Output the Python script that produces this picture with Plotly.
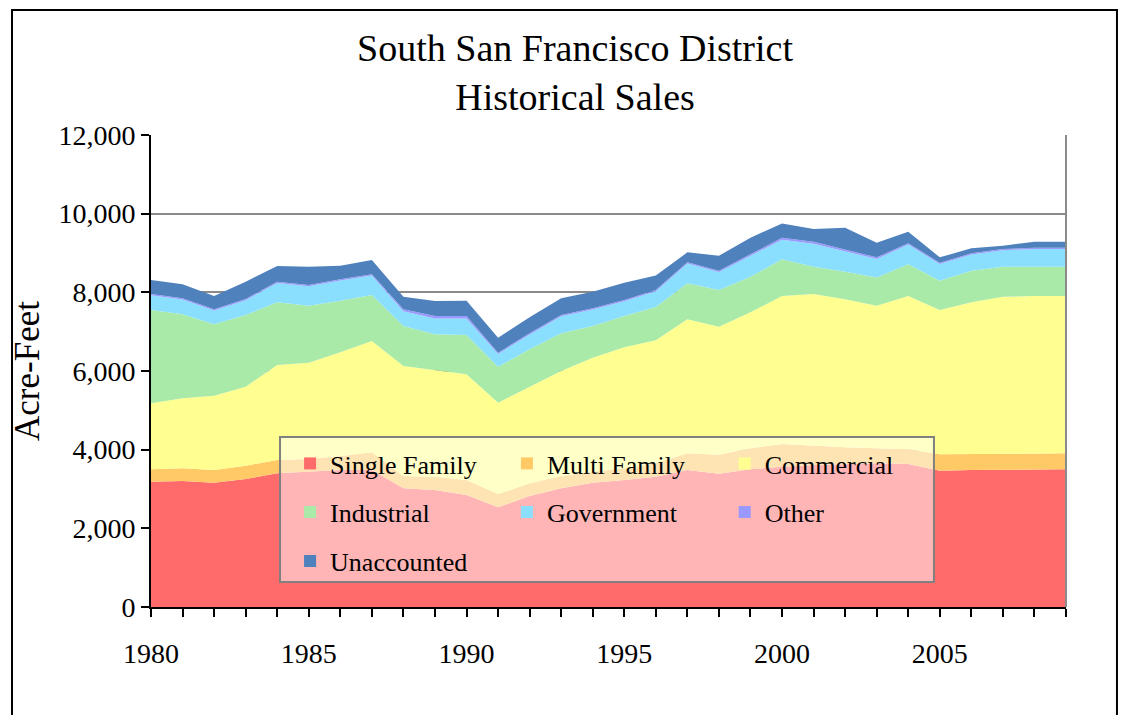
import plotly.graph_objects as go

years = list(range(1980, 2010))

single_family = [3186, 3203, 3160, 3254, 3398, 3440, 3483, 3483, 3017, 2974,
                 2847, 2534, 2822, 3017, 3160, 3228, 3313, 3483, 3390, 3500,
                 3567, 3610, 3635, 3652, 3635, 3465, 3483, 3483, 3500, 3500]
multi_family = [314, 322, 323, 339, 339, 322, 355, 449, 313, 339,
                381, 338, 322, 313, 280, 297, 339, 424, 480, 534,
                576, 483, 424, 382, 374, 416, 407, 415, 407, 407]
commercial = [1678, 1780, 1889, 2008, 2415, 2449, 2636, 2830, 2796, 2711,
              2687, 2321, 2457, 2669, 2897, 3076, 3128, 3406, 3256, 3457,
              3763, 3864, 3762, 3626, 3897, 3669, 3855, 3990, 3999, 3999]
industrial = [2372, 2135, 1814, 1822, 1593, 1449, 1313, 1169, 1017, 908,
              999, 916, 949, 958, 806, 796, 850, 915, 932, 906,
              932, 694, 703, 720, 805, 745, 805, 763, 745, 745]
government = [377, 377, 351, 377, 495, 495, 513, 496, 374, 405,
              423, 326, 377, 436, 420, 377, 398, 504, 462, 538,
              501, 586, 518, 469, 504, 428, 411, 419, 453, 453]
other = [30, 30, 30, 30, 30, 30, 30, 30, 50, 60,
         60, 30, 30, 30, 30, 30, 30, 30, 30, 30,
         50, 50, 50, 40, 30, 30, 30, 30, 30, 30]
unaccounted = [355, 356, 339, 440, 398, 466, 346, 364, 321, 382,
               390, 381, 407, 424, 423, 440, 369, 254, 381, 424,
               364, 322, 551, 372, 296, 136, 127, 85, 153, 153]

series_names = ["Single Family", "Multi Family", "Commercial", "Industrial",
                "Government", "Other", "Unaccounted"]
series_values = [single_family, multi_family, commercial, industrial,
                 government, other, unaccounted]
series_colors = ["#FF6B6B", "#FFC966", "#FFFF91", "#A9EAA9",
                 "#8ADFFF", "#9999FF", "#4F81BD"]

FONT = "Liberation Serif"

fig = go.Figure()
for name, vals, color in zip(series_names, series_values, series_colors):
    fig.add_trace(go.Scatter(
        x=years, y=vals, name=name, stackgroup="one", mode="lines",
        line=dict(width=0, color=color), fillcolor=color, showlegend=False,
    ))

# legend entries laid out as a 3-column grid
legend_x = [0.152, 0.389, 0.627]
legend_y = [0.304, 0.201, 0.097]
legend_layouts = {}
for i, (name, color) in enumerate(zip(series_names, series_colors)):
    key = "legend" if i == 0 else f"legend{i + 1}"
    row, col = divmod(i, 3)
    fig.add_trace(go.Scatter(
        x=[None], y=[None], name=name, mode="markers",
        marker=dict(symbol="square", size=12, color=color),
        showlegend=True, legend=key,
    ))
    legend_layouts[key] = dict(
        x=legend_x[col], y=legend_y[row], xanchor="left", yanchor="middle",
        bgcolor="rgba(0,0,0,0)", borderwidth=0,
        font=dict(family=FONT, size=26, color="black"),
    )

fig.update_layout(**legend_layouts)

fig.update_layout(
    width=1114, height=707,
    margin=dict(l=143, r=56, t=127, b=108),
    paper_bgcolor="white", plot_bgcolor="white",
    font=dict(family=FONT, color="black"),
    title=dict(
        text="South San Francisco District<br>Historical Sales",
        x=0.509, xref="container", xanchor="center",
        y=0.925, yref="container", yanchor="top",
        font=dict(family=FONT, size=38, color="black"),
    ),
    xaxis=dict(
        range=[1980, 2009], tick0=1980, dtick=5,
        ticks="outside", ticklen=8, tickwidth=2, tickcolor="black",
        minor=dict(tick0=1980, dtick=1, ticks="outside", ticklen=8,
                   tickwidth=2, tickcolor="black"),
        showline=True, linecolor="black", linewidth=2,
        showgrid=False, zeroline=False,
        tickfont=dict(family=FONT, size=28, color="black"),
        ticklabelstandoff=12,
    ),
    yaxis=dict(
        range=[0, 12000], dtick=2000, tickformat=",",
        ticks="outside", ticklen=8, tickwidth=2, tickcolor="black",
        showline=True, linecolor="black", linewidth=2,
        showgrid=True, gridcolor="#8A8A8A", gridwidth=2, zeroline=False,
        tickfont=dict(family=FONT, size=28, color="black"),
        title=dict(text="Acre-Feet", standoff=8,
                   font=dict(family=FONT, size=35, color="black")),
    ),
    shapes=[
        # plot-area right border
        dict(type="line", xref="paper", yref="paper", x0=1, x1=1, y0=0, y1=1,
             line=dict(color="#8A8A8A", width=2), layer="above"),
        # legend box
        dict(type="rect", xref="paper", yref="paper",
             x0=0.141, x1=0.8557, y0=0.053, y1=0.360,
             fillcolor="rgba(255,255,255,0.5)",
             line=dict(color="#808080", width=2), layer="above"),
        # outer chart frame
        dict(type="rect", xref="paper", yref="paper",
             x0=-0.1519, x1=1.0557, y0=-0.30, y1=1.2648,
             fillcolor="rgba(0,0,0,0)",
             line=dict(color="black", width=2), layer="above"),
    ],
)

fig.write_html("out.html")
